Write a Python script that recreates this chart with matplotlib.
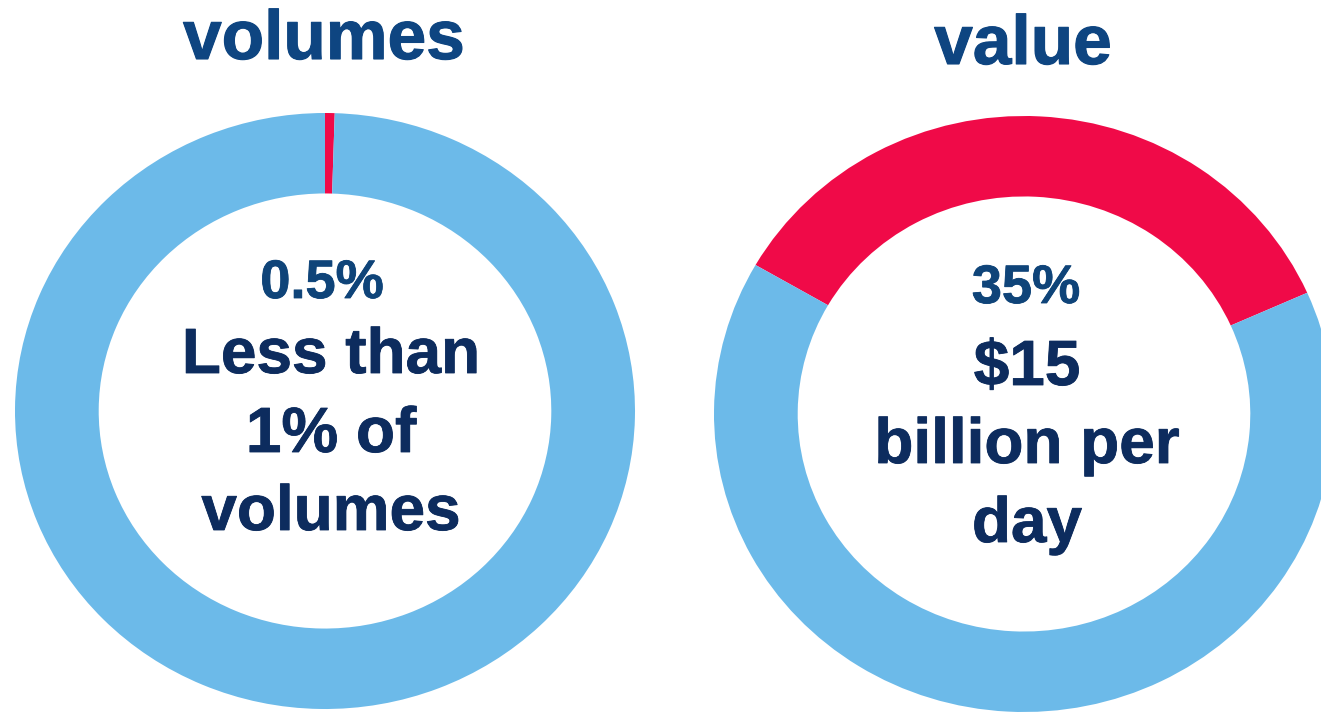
import matplotlib
matplotlib.use("Agg")
import matplotlib.pyplot as plt
import matplotlib.patheffects as pe

# share of transactions: tiny by count, big by value
titles = ["volumes", "value"]
shares = [0.5, 35]
pct_labels = ["0.5%", "35%"]
center_lines = [["Less than", "1% of", "volumes"], ["$15", "billion per", "day"]]

W, H = 1321, 712
RED = "#F00A48"
BLUE = "#6CBAE9"
TITLE_C = "#0E4581"
PCT_C = "#0F4479"
TEXT_C = "#0D2C5E"

plt.rcParams["font.family"] = ["Liberation Sans", "DejaVu Sans"]

fig = plt.figure(figsize=(W / 100, H / 100), dpi=100)
fig.patch.set_facecolor("white")

# donut geometry in pixels (slightly squashed vertically, as in the picture)
centers = [(325, 411), (1024, 414)]
rx, ry = 310, 298
starts = [90, 150]
title_pos = [(324, 59), (1023, 64)]
pct_pos = [(322, 298), (1026, 303)]
line_x = [331, 1027]
line_y = [[373, 452, 530], [385, 463, 542]]

for i in range(2):
    cx, cy = centers[i]
    ax = fig.add_axes([(cx - rx) / W, (H - cy - ry) / H, 2 * rx / W, 2 * ry / H])
    ax.pie([shares[i], 100 - shares[i]], colors=[RED, BLUE], startangle=starts[i],
           counterclock=False, radius=1,
           wedgeprops=dict(width=0.27, linewidth=0))
    ax.set_aspect("auto")
    ax.set_xlim(-1, 1)
    ax.set_ylim(-1, 1)
    ax.axis("off")

    tx, ty = title_pos[i]
    fig.text(tx / W, 1 - ty / H, titles[i], ha="center", va="baseline",
             fontsize=50, fontweight="bold", color=TITLE_C,
             path_effects=[pe.withStroke(linewidth=0.8, foreground=TITLE_C)])
    px, py = pct_pos[i]
    fig.text(px / W, 1 - py / H, pct_labels[i], ha="center", va="baseline",
             fontsize=39, fontweight="bold", color=PCT_C,
             path_effects=[pe.withStroke(linewidth=0.6, foreground=PCT_C)])
    for line, y in zip(center_lines[i], line_y[i]):
        fig.text(line_x[i] / W, 1 - y / H, line, ha="center", va="baseline",
                 fontsize=46, fontweight="bold", color=TEXT_C,
                 path_effects=[pe.withStroke(linewidth=0.6, foreground=TEXT_C)])

fig.savefig("out.png", dpi=100, facecolor="white")
